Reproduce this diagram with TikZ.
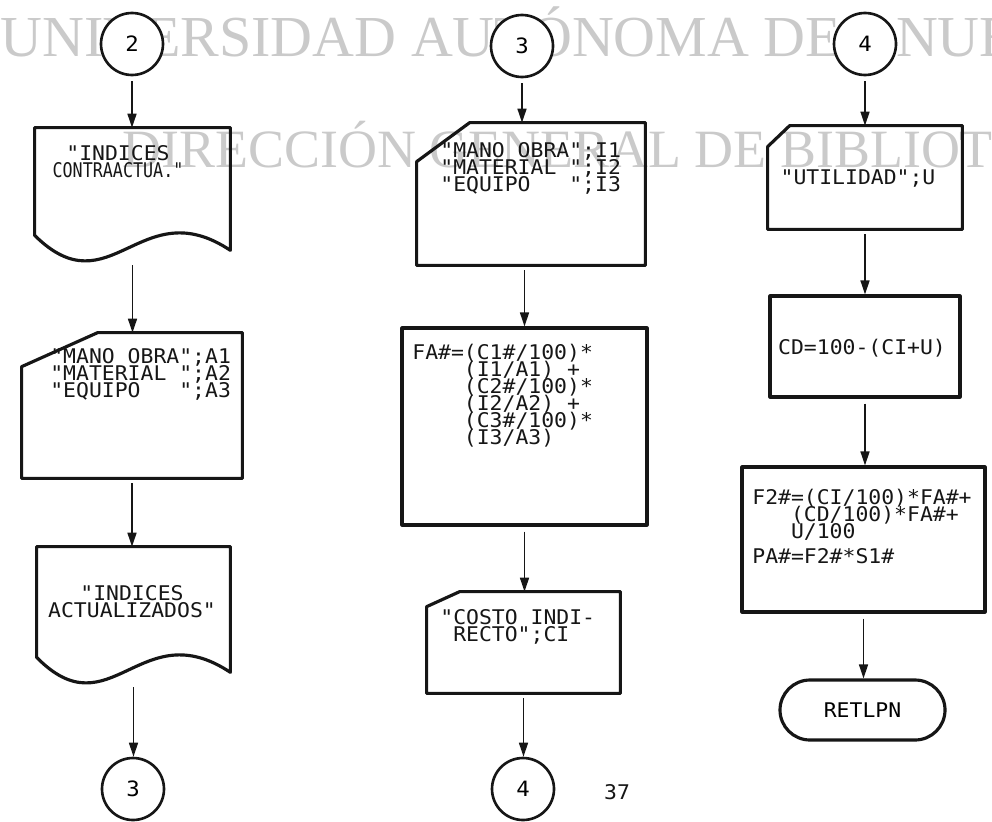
\documentclass[tikz,border=0pt]{standalone}
\usepackage{fontspec}
\usetikzlibrary{arrows.meta,positioning,shapes.misc,calc}
\newfontfamily\dotfont[FakeStretch=1.06]{DejaVu Sans Mono}
\newfontfamily\wmfont{Liberation Serif}
\definecolor{ink}{RGB}{22,22,22}
\definecolor{wmark}{RGB}{202,202,202}
\tikzset{
  >={Triangle[length=2.8mm,width=1.8mm]},
  flow/.style={->,line width=0.9pt,draw=ink,shorten <=1mm},
  outline/.style={draw=ink,line width=1.8pt,line join=round},
  slot/.style 2 args={rectangle,minimum width=#1,minimum height=#2,inner sep=0pt},
  rblock/.style 2 args={slot={#1}{#2},outline},
  conn/.style={circle,draw=ink,fill=white,line width=1.5pt,minimum size=12.4mm,
    inner sep=0pt,font=\dotfont\fontsize{12}{12}\selectfont},
  term/.style={rounded rectangle,outline,minimum width=33mm,minimum height=12mm,
    inner sep=0pt,font=\dotfont\fontsize{11.5}{11.5}\selectfont},
  listing/.style={font=\dotfont\fontsize{11.5}{9.7}\selectfont,
    inner sep=0pt,text=ink,align=left},
  wm/.style={font=\wmfont\fontsize{33}{33}\selectfont,text=wmark,inner sep=0pt,anchor=base west},
}
% card with cut corner: name, cut x, cut y
\newcommand\cardline[3]{\draw[outline] (#1.south west) -- ([yshift=-#3]#1.north west)
  -- ([xshift=#2]#1.north west) -- (#1.north east) -- (#1.south east) -- cycle;}
% document with wavy bottom
\newcommand\docline[1]{\draw[outline] (#1.north west) -- (#1.north east) -- (#1.south east)
  .. controls ([shift={(-18mm,12mm)}]#1.south east) and ([shift={(-24mm,-12mm)}]#1.south east)
  .. ([yshift=3mm]#1.south west) -- cycle;}
\newcommand\narrow[1]{\scalebox{0.78}[1]{#1}}

\begin{document}
\lineskiplimit=-20pt
\begin{tikzpicture}[x=0.2mm,y=-0.2mm]
  \useasboundingbox (0,0) rectangle (992,821);
  % watermark
  \begin{scope}
    \clip (0,0) rectangle (992,821);
    \node[wm] (wm1) at (0,57) {UNIVERSIDAD AUTÓNOMA DE\hspace{11mm}NUE};
    \node[wm,font=\wmfont\fontsize{30.7}{31}\selectfont] (wm2) at (122,167) {DIRECCIÓN GENERAL DE BIBLIOT};
  \end{scope}

  % left column
  \node[conn] (c2) at (132,44) {2};
  \node[slot={39mm}{24.4mm}] (idxc) at (132.5,189) {};
  \docline{idxc}
  \node[listing,align=center,anchor=north] (idxc-t) at (118,145) {"INDICES\\ \narrow{CONTRAACTUA."}};
  \node[slot={44mm}{29mm}] (mano1) at (132,405.5) {};
  \cardline{mano1}{15.2mm}{6.8mm}
  \node[listing,anchor=north west] (mano1-t) at (50,348) {"MANO OBRA";A1\\"MATERIAL ";A2\\"EQUIPO~~~";A3};
  \node[slot={38.6mm}{25mm}] (idxa) at (133.5,609.5) {};
  \docline{idxa}
  \node[listing,align=center,anchor=north] (idxa-t) at (132,585) {"INDICES\\ACTUALIZADOS"};
  \node[conn] (c3b) at (133,789) {3};

  \draw[flow] (c2.south) -- (c2.south |- idxc.north);
  \draw[flow,shorten <=3mm] (idxc.south) -- (idxc.south |- mano1.north);
  \draw[flow] (mano1.south) -- (mano1.south |- idxa.north);
  \draw[flow,shorten <=3mm] (idxa.south) -- (idxa.south |- c3b.north);

  % middle column
  \node[conn] (c3) at (522,46) {3};
  \node[slot={45.6mm}{28.4mm}] (mano2) at (531,194) {};
  \cardline{mano2}{10.6mm}{7.8mm}
  \node[listing,anchor=north west] (mano2-t) at (440,142) {"MANO OBRA";I1\\"MATERIAL ";I2\\"EQUIPO~~~";I3};
  \node[rblock={49mm}{39.4mm}] (fa) at (524.5,426.5) {};
  \node[listing,anchor=north west] (fa-t) at (412,344) {FA\#=(C1\#/100)*\\\hphantom{FA\#=}(I1/A1) +\\
    \hphantom{FA\#=}(C2\#/100)*\\\hphantom{FA\#=}(I2/A2) +\\\hphantom{FA\#=}(C3\#/100)*\\\hphantom{FA\#=}(I3/A3)};
  \node[slot={38.6mm}{20.2mm}] (costo) at (523.5,642.5) {};
  \cardline{costo}{6.6mm}{3mm}
  \node[listing,anchor=north west] (costo-t) at (440,609) {"COSTO INDI-\\\hphantom{"}RECTO";CI};
  \node[conn] (c4b) at (523,789) {4};
  \node[listing] (page) at (617,792) {37};

  \draw[flow] (c3.south) -- (c3.south |- mano2.north);
  \draw[flow] (fa.north |- mano2.south) -- (fa.north);
  \draw[flow] (fa.south) -- (fa.south |- costo.north);
  \draw[flow] (costo.south) -- (costo.south |- c4b.north);

  % right column
  \node[conn] (c4) at (865,44) {4};
  \node[slot={38.8mm}{20.6mm}] (util) at (865,177.5) {};
  \cardline{util}{4.4mm}{4.2mm}
  \node[listing] (util-t) at (858,179) {"UTILIDAD";U};
  \node[rblock={38mm}{20.2mm}] (cd) at (865,346.5) {};
  \node[listing] (cd-t) at (862,348) {CD=100-(CI+U)};
  \node[rblock={48.6mm}{29mm}] (f2) at (863.5,539.5) {};
  \node[listing,anchor=north west] (f2-t) at (752,489) {F2\#=(CI/100)*FA\#+\\\hphantom{F2\#}(CD/100)*FA\#+\\
    \hphantom{F2\#}U/100\\[1.5mm]PA\#=F2\#*S1\#};
  \node[term] (ret) at (862.5,710) {RETLPN};

  \draw[flow] (c4.south) -- (c4.south |- util.north);
  \draw[flow] (util.south) -- (util.south |- cd.north);
  \draw[flow] (cd.south) -- (cd.south |- f2.north);
  \draw[flow] (f2.south) -- (f2.south |- ret.north);
\end{tikzpicture}
\end{document}
